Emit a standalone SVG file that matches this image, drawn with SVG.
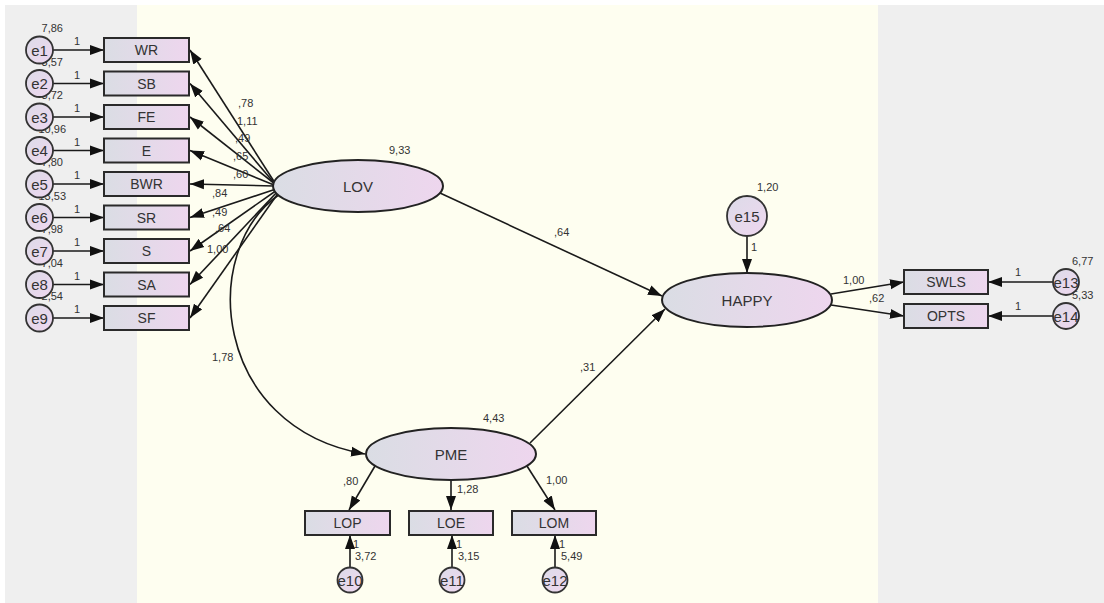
<svg xmlns="http://www.w3.org/2000/svg" width="1104" height="603" viewBox="0 0 1104 603">
<defs>
<linearGradient id="gr" x1="0" y1="0" x2="1" y2="0">
<stop offset="0" stop-color="#dadde4"/>
<stop offset="1" stop-color="#eed6ee"/>
</linearGradient>
<linearGradient id="gc" x1="0" y1="0" x2="1" y2="1">
<stop offset="0" stop-color="#dcdbe8"/>
<stop offset="1" stop-color="#efd7ef"/>
</linearGradient>
<marker id="ah" markerWidth="15" markerHeight="11" refX="14" refY="5.5" orient="auto" markerUnits="userSpaceOnUse">
<path d="M0,0.5 L14,5.5 L0,10.5 z" fill="#111"/>
</marker>
</defs>
<style>
.obs{fill:url(#gr);stroke:#2a2a2a;stroke-width:2}
.lat{fill:url(#gr);stroke:#222;stroke-width:2}
.err{fill:url(#gc);stroke:#333;stroke-width:1.8}
.ln{fill:none;stroke:#1a1a1a;stroke-width:1.6;marker-end:url(#ah)}
.nt{font-family:"Liberation Sans",Arial,sans-serif;font-size:14px;fill:#333;text-anchor:middle}
.lt{font-family:"Liberation Sans",Arial,sans-serif;font-size:15px;fill:#333;text-anchor:middle}
.et{font-family:"Liberation Sans",Arial,sans-serif;font-size:15px;fill:#333;text-anchor:middle}
.num{font-family:"Liberation Sans",Arial,sans-serif;font-size:11px;fill:#333}
.ne{text-anchor:end}
</style>
<rect x="0" y="0" width="1104" height="603" fill="#ffffff"/>
<rect x="5" y="5" width="1099" height="598" fill="#efefef"/>
<rect x="137" y="5" width="741" height="598" fill="#fefef0"/>

<g id="labels-left">
<text class="num ne" x="63" y="32">7,86</text>
<text class="num ne" x="63" y="65.5">3,57</text>
<text class="num ne" x="63" y="99">3,72</text>
<text class="num ne" x="66" y="132.5">10,96</text>
<text class="num ne" x="63" y="166">7,80</text>
<text class="num ne" x="66" y="199.5">13,53</text>
<text class="num ne" x="63" y="233">7,98</text>
<text class="num ne" x="63" y="266.5">7,04</text>
<text class="num ne" x="63" y="300">2,54</text>
<text class="num" x="74" y="45">1</text>
<text class="num" x="74" y="78.5">1</text>
<text class="num" x="74" y="112">1</text>
<text class="num" x="74" y="145.5">1</text>
<text class="num" x="74" y="179">1</text>
<text class="num" x="74" y="212.5">1</text>
<text class="num" x="74" y="246">1</text>
<text class="num" x="74" y="279.5">1</text>
<text class="num" x="74" y="313">1</text>
</g>

<g id="connectors">
<line class="ln" x1="53" y1="50" x2="104" y2="50"/>
<line class="ln" x1="53" y1="83.5" x2="104" y2="83.5"/>
<line class="ln" x1="53" y1="117" x2="104" y2="117"/>
<line class="ln" x1="53" y1="150.5" x2="104" y2="150.5"/>
<line class="ln" x1="53" y1="184" x2="104" y2="184"/>
<line class="ln" x1="53" y1="217.5" x2="104" y2="217.5"/>
<line class="ln" x1="53" y1="251" x2="104" y2="251"/>
<line class="ln" x1="53" y1="284.5" x2="104" y2="284.5"/>
<line class="ln" x1="53" y1="318" x2="104" y2="318"/>
<line class="ln" x1="275" y1="183" x2="190" y2="50"/>
<line class="ln" x1="275" y1="184" x2="190" y2="83.5"/>
<line class="ln" x1="275" y1="184" x2="190" y2="117"/>
<line class="ln" x1="274" y1="185" x2="190" y2="150.5"/>
<line class="ln" x1="274" y1="186" x2="190" y2="184"/>
<line class="ln" x1="276" y1="189" x2="190" y2="217.5"/>
<line class="ln" x1="277" y1="190" x2="190" y2="251"/>
<line class="ln" x1="278" y1="191" x2="190" y2="284.5"/>
<line class="ln" x1="279" y1="192" x2="190" y2="318"/>
<path class="ln" d="M280,194 C198,250 212,428 365,454"/>
<line class="ln" x1="440" y1="193" x2="662" y2="296"/>
<line class="ln" x1="530" y1="443" x2="665" y2="309"/>
<line class="ln" x1="747" y1="236" x2="747" y2="273"/>
<line class="ln" x1="831" y1="294" x2="904" y2="282"/>
<line class="ln" x1="831" y1="305" x2="904" y2="316"/>
<line class="ln" x1="1053" y1="282" x2="988" y2="282"/>
<line class="ln" x1="1053" y1="316" x2="988" y2="316"/>
<line class="ln" x1="375" y1="466" x2="349" y2="510"/>
<line class="ln" x1="451" y1="480" x2="451" y2="510"/>
<line class="ln" x1="527" y1="466" x2="555" y2="510"/>
<line class="ln" x1="350" y1="567" x2="350" y2="535"/>
<line class="ln" x1="452" y1="567" x2="452" y2="535"/>
<line class="ln" x1="555" y1="567" x2="555" y2="535"/>
</g>

<g id="e1"><circle class="err" cx="39.5" cy="50" r="13.5"/><text class="et" x="39.5" y="55.5">e1</text></g>
<g id="e2"><circle class="err" cx="39.5" cy="83.5" r="13.5"/><text class="et" x="39.5" y="89">e2</text></g>
<g id="e3"><circle class="err" cx="39.5" cy="117" r="13.5"/><text class="et" x="39.5" y="122.5">e3</text></g>
<g id="e4"><circle class="err" cx="39.5" cy="150.5" r="13.5"/><text class="et" x="39.5" y="156">e4</text></g>
<g id="e5"><circle class="err" cx="39.5" cy="184" r="13.5"/><text class="et" x="39.5" y="189.5">e5</text></g>
<g id="e6"><circle class="err" cx="39.5" cy="217.5" r="13.5"/><text class="et" x="39.5" y="223">e6</text></g>
<g id="e7"><circle class="err" cx="39.5" cy="251" r="13.5"/><text class="et" x="39.5" y="256.5">e7</text></g>
<g id="e8"><circle class="err" cx="39.5" cy="284.5" r="13.5"/><text class="et" x="39.5" y="290">e8</text></g>
<g id="e9"><circle class="err" cx="39.5" cy="318" r="13.5"/><text class="et" x="39.5" y="323.5">e9</text></g>

<g id="WR"><rect class="obs" x="104" y="38" width="85" height="24"/><text class="nt" x="146.5" y="55">WR</text></g>
<g id="SB"><rect class="obs" x="104" y="71.5" width="85" height="24"/><text class="nt" x="146.5" y="88.5">SB</text></g>
<g id="FE"><rect class="obs" x="104" y="105" width="85" height="24"/><text class="nt" x="146.5" y="122">FE</text></g>
<g id="E"><rect class="obs" x="104" y="138.5" width="85" height="24"/><text class="nt" x="146.5" y="155.5">E</text></g>
<g id="BWR"><rect class="obs" x="104" y="172" width="85" height="24"/><text class="nt" x="146.5" y="189">BWR</text></g>
<g id="SR"><rect class="obs" x="104" y="205.5" width="85" height="24"/><text class="nt" x="146.5" y="222.5">SR</text></g>
<g id="S"><rect class="obs" x="104" y="239" width="85" height="24"/><text class="nt" x="146.5" y="256">S</text></g>
<g id="SA"><rect class="obs" x="104" y="272.5" width="85" height="24"/><text class="nt" x="146.5" y="289.5">SA</text></g>
<g id="SF"><rect class="obs" x="104" y="306" width="85" height="24"/><text class="nt" x="146.5" y="323">SF</text></g>

<g id="LOV"><ellipse class="lat" cx="358" cy="186" rx="85" ry="26"/><text class="lt" x="358" y="191.5">LOV</text></g>
<g id="PME"><ellipse class="lat" cx="451" cy="454" rx="85" ry="26"/><text class="lt" x="451" y="459.5">PME</text></g>
<g id="HAPPY"><ellipse class="lat" cx="747" cy="300" rx="85" ry="27"/><text class="lt" x="747" y="305.5">HAPPY</text></g>
<g id="e15"><circle class="err" cx="747" cy="216" r="20"/><text class="et" x="747" y="221.5">e15</text></g>

<g id="SWLS"><rect class="obs" x="904" y="270" width="84" height="24"/><text class="nt" x="946" y="287">SWLS</text></g>
<g id="OPTS"><rect class="obs" x="904" y="304" width="84" height="24"/><text class="nt" x="946" y="321">OPTS</text></g>

<g id="labels-right">
<text class="num" x="1072" y="265">6,77</text>
<text class="num" x="1072" y="299">5,33</text>
<text class="num" x="1015" y="276">1</text>
<text class="num" x="1015" y="310">1</text>
</g>
<g id="e13"><circle class="err" cx="1066" cy="282" r="13"/><text class="et" x="1066" y="287.5">e13</text></g>
<g id="e14"><circle class="err" cx="1066" cy="316" r="13"/><text class="et" x="1066" y="321.5">e14</text></g>

<g id="LOP"><rect class="obs" x="305" y="511" width="85" height="24"/><text class="nt" x="347.5" y="528">LOP</text></g>
<g id="LOE"><rect class="obs" x="409" y="511" width="84" height="24"/><text class="nt" x="451" y="528">LOE</text></g>
<g id="LOM"><rect class="obs" x="512" y="511" width="84" height="24"/><text class="nt" x="554" y="528">LOM</text></g>
<g id="e10"><circle class="err" cx="350" cy="580" r="12.5"/><text class="et" x="350" y="585.5">e10</text></g>
<g id="e11"><circle class="err" cx="452" cy="580" r="12.5"/><text class="et" x="452" y="585.5">e11</text></g>
<g id="e12"><circle class="err" cx="555" cy="580" r="12.5"/><text class="et" x="555" y="585.5">e12</text></g>

<g id="labels">
<text class="num" x="238" y="107">,78</text>
<text class="num" x="237" y="125">1,11</text>
<text class="num" x="235" y="142">,49</text>
<text class="num" x="233" y="160">,65</text>
<text class="num" x="233" y="178">,60</text>
<text class="num" x="212" y="197">,84</text>
<text class="num" x="212" y="216">,49</text>
<text class="num" x="215" y="232">,64</text>
<text class="num" x="207" y="253">1,00</text>
<text class="num" x="389" y="154">9,33</text>
<text class="num" x="212" y="361">1,78</text>
<text class="num" x="554" y="236">,64</text>
<text class="num" x="580" y="371">,31</text>
<text class="num" x="757" y="191">1,20</text>
<text class="num" x="751" y="251">1</text>
<text class="num" x="843" y="284">1,00</text>
<text class="num" x="869" y="302">,62</text>
<text class="num" x="483" y="422">4,43</text>
<text class="num" x="343" y="485">,80</text>
<text class="num" x="457" y="493">1,28</text>
<text class="num" x="546" y="484">1,00</text>
<text class="num" x="353" y="548">1</text>
<text class="num" x="355" y="560">3,72</text>
<text class="num" x="456" y="548">1</text>
<text class="num" x="458" y="560">3,15</text>
<text class="num" x="559" y="548">1</text>
<text class="num" x="561" y="560">5,49</text>
</g>
</svg>
